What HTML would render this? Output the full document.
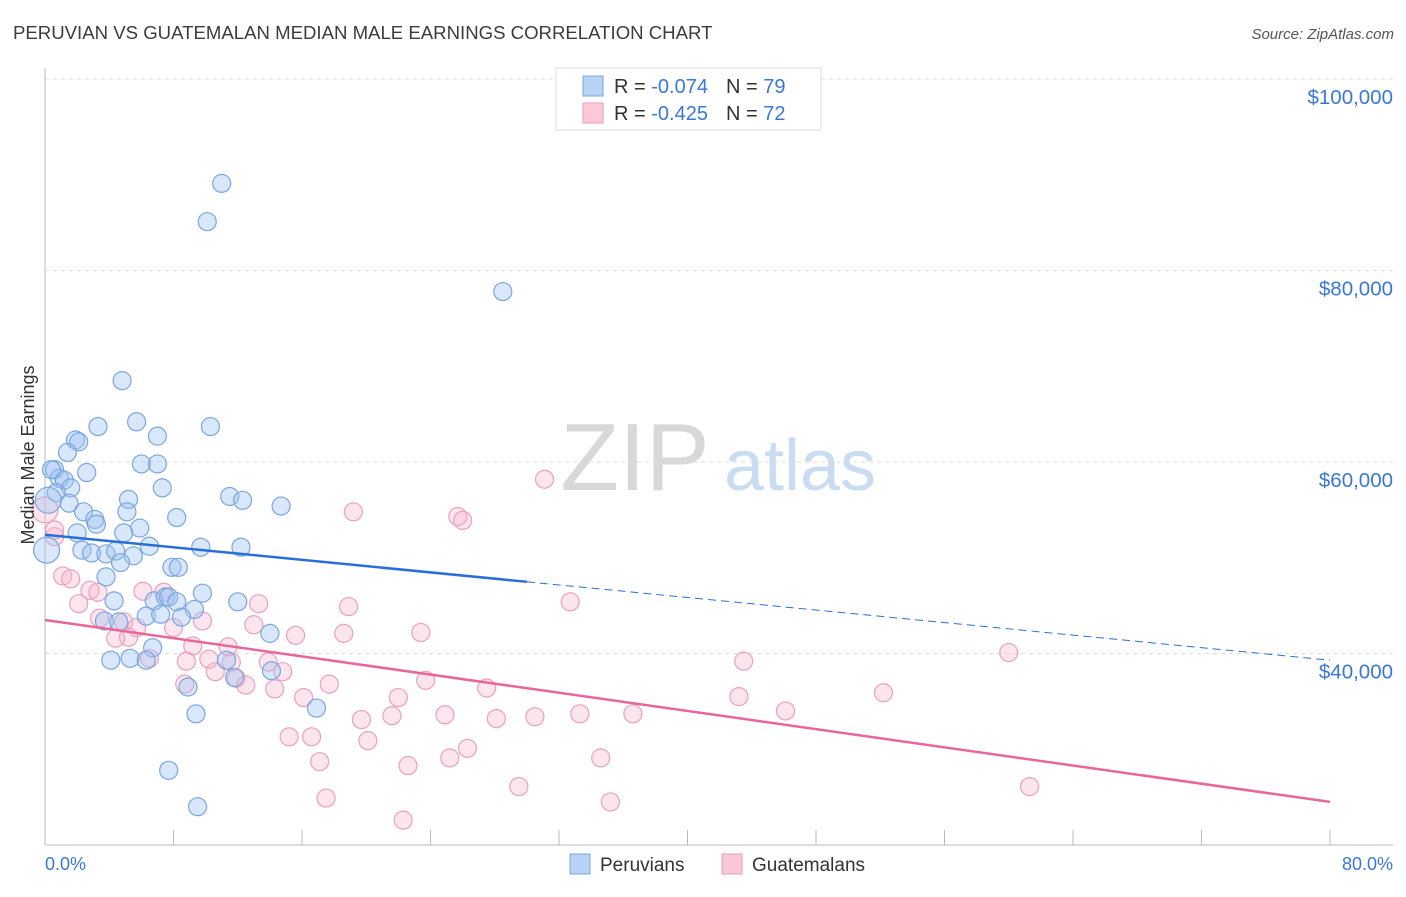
<!DOCTYPE html>
<html><head><meta charset="utf-8"><style>
body{margin:0;background:#fff;font-family:"Liberation Sans",sans-serif;}
svg text{font-family:"Liberation Sans",sans-serif;}
</style></head><body>
<svg id="chart" width="1406" height="892" xmlns="http://www.w3.org/2000/svg">
<text x="13" y="39" font-size="18.6" fill="#3c3c3c">PERUVIAN VS GUATEMALAN MEDIAN MALE EARNINGS CORRELATION CHART</text>
<text x="1394" y="39" font-size="15" fill="#555" font-style="italic" text-anchor="end">Source: ZipAtlas.com</text>
<g>
<text x="635" y="490" font-size="96" fill="#d8d8d8" font-family="Liberation Serif,serif" text-anchor="middle">ZIP</text>
<text x="800" y="490" font-size="72" fill="#c9dcf2" text-anchor="middle">atlas</text>
</g>
<g id="grid"></g>
<g id="axes"></g>
<g id="marks"></g>
<g>
<rect x="556" y="68" width="265" height="62" fill="#fff" stroke="#ddd"/>
<rect x="583" y="76" width="20" height="20" fill="#b8d2f5" stroke="#7aa6e3"/>
<rect x="583" y="103" width="20" height="20" fill="#fbc8d8" stroke="#ee9ab8"/>
<text x="614" y="93" font-size="20" fill="#333">R = <tspan fill="#3a78d8">-0.074</tspan><tspan dx="18">N = </tspan><tspan fill="#3a78d8">79</tspan></text>
<text x="614" y="120" font-size="20" fill="#333">R = <tspan fill="#3a78d8">-0.425</tspan><tspan dx="18">N = </tspan><tspan fill="#3a78d8">72</tspan></text>
</g>
<text transform="translate(34,455) rotate(-90)" font-size="18" fill="#333" text-anchor="middle">Median Male Earnings</text>
<text x="45" y="870" font-size="18" fill="#3a78d8">0.0%</text>
<text x="1393" y="870" font-size="18" fill="#3a78d8" text-anchor="end">80.0%</text>
<g>
<rect x="570" y="854" width="20" height="20" fill="#b8d2f5" stroke="#7aa6e3"/>
<text x="600" y="871" font-size="19" fill="#333">Peruvians</text>
<rect x="722" y="854" width="20" height="20" fill="#fbc8d8" stroke="#ee9ab8"/>
<text x="752" y="871" font-size="19" fill="#333">Guatemalans</text>
</g>
</svg>
<script>
const yTicks=[100000,80000,60000,40000];
const yTickLabels=["$100,000","$80,000","$60,000","$40,000"];
const xTicks=[0,8,16,24,32,40,48,56,64,72,80];
const peruX=[11.0,10.1,28.5,4.8,5.7,7.0,10.3,3.3,1.9,2.1,1.4,6.0,7.0,2.6,0.6,0.9,1.2,1.6,7.3,0.7,11.5,12.3,5.2,14.7,1.5,2.4,5.1,3.1,8.2,3.2,5.9,4.9,2.0,6.5,9.7,12.2,2.3,2.9,3.8,4.4,5.5,4.7,7.9,8.3,3.8,4.3,6.8,7.5,7.7,9.8,8.2,12.0,9.3,6.3,7.2,8.5,3.7,4.6,14.0,6.7,4.1,5.3,6.3,11.3,14.1,11.8,8.9,16.9,9.4,7.7,9.5,0.1,0.2,0.4];
const peruY=[89.1,85.1,77.8,68.5,64.2,62.7,63.7,63.7,62.3,62.1,61.0,59.8,59.8,58.9,59.2,58.3,58.1,57.3,57.3,56.8,56.4,56.0,56.1,55.4,55.7,54.8,54.8,54.0,54.2,53.5,53.1,52.6,52.6,51.2,51.1,51.1,50.8,50.5,50.4,50.7,50.2,49.5,49.0,49.0,48.0,45.5,45.5,45.9,45.9,46.3,45.4,45.4,44.6,43.9,44.1,43.8,43.4,43.3,42.1,40.6,39.3,39.5,39.3,39.3,38.2,37.5,36.5,34.3,33.7,27.8,24.0,50.8,56.0,59.2];
const guatX=[31.1,19.2,25.7,26.0,0.6,1.1,1.6,2.8,3.3,2.1,6.1,7.4,32.7,13.3,18.9,9.8,3.4,4.9,8.0,5.7,13.0,23.4,15.6,18.6,5.2,4.4,9.2,11.4,8.8,10.2,6.5,13.9,11.6,43.5,60.0,10.6,14.8,11.9,8.7,23.7,17.7,12.5,14.3,27.5,16.1,22.0,43.2,52.2,24.9,21.6,33.3,36.6,30.5,19.7,28.1,46.1,15.2,16.6,20.1,26.3,17.1,25.2,22.6,34.6,17.5,29.5,35.2,61.3,22.3,0,0.6];
const guatY=[58.2,54.8,54.3,53.9,52.2,48.1,47.8,46.6,46.4,45.2,46.5,46.4,45.4,45.2,44.9,43.4,43.7,43.3,42.7,42.7,43.0,42.2,41.9,42.1,41.7,41.6,40.8,40.7,39.2,39.4,39.5,39.1,39.1,39.2,40.1,38.1,38.1,37.4,36.8,37.2,36.8,36.7,36.3,36.4,35.4,35.4,35.5,35.9,33.6,33.5,33.7,33.7,33.4,33.1,33.2,34.0,31.3,31.3,30.9,30.1,28.7,29.1,28.3,29.1,24.9,26.1,24.5,26.1,22.6,55.0,52.9];
const peruTrend=[52.4,39.3];
const guatTrend=[43.5,24.5];
const peruSolidEnd=30;
const NS="http://www.w3.org/2000/svg";
function xs(v){return 45+v/80*1285;}
function ys(v){return 79+(100000-v)*191.5/20000;}
function yk(v){return ys(v*1000);}
function mk(tag,attrs,parent){const e=document.createElementNS(NS,tag);for(const k in attrs)e.setAttribute(k,attrs[k]);parent.appendChild(e);return e;}
const grid=document.getElementById('grid'),axes=document.getElementById('axes'),marks=document.getElementById('marks');
yTicks.forEach((t,i)=>{
 const l=mk('line',{x1:45,x2:1393,y1:ys(t),y2:ys(t),stroke:'#ddd','stroke-dasharray':'4,4'},grid);
 
 
 const tx=mk('text',{x:1393,y:ys(t)+25,'font-size':20.5,fill:'#3a78d8','text-anchor':'end'},axes);
 tx.textContent=yTickLabels[i];
 
 
});
const la=mk('line',{x1:45,x2:45,y1:68,y2:845,stroke:'#bbb'},axes);


const ba=mk('line',{x1:45,x2:1393,y1:845,y2:845,stroke:'#bbb'},axes);


xTicks.forEach(t=>{const l=mk('line',{x1:xs(t),x2:xs(t),y1:830,y2:845,stroke:'#bbb'},axes);
 
 });
function dots(X,Y,fill,stroke,name){X.forEach((x,i)=>{const big=x<0.3;const c=mk('circle',{cx:xs(x),cy:yk(Y[i]),r:big?13:9,fill:fill,stroke:stroke,'stroke-width':1.2},marks);
 
 });}
dots(guatX,guatY,'rgba(246,180,202,0.35)','#eba0bc','guatemalan-point');
dots(peruX,peruY,'rgba(160,196,242,0.4)','#79a6e2','peruvian-point');
function lin(tr,x){return tr[0]+(tr[1]-tr[0])*x/80;}
const p1=mk('line',{x1:xs(0),y1:yk(lin(peruTrend,0)),x2:xs(peruSolidEnd),y2:yk(lin(peruTrend,peruSolidEnd)),stroke:'#2a6fd8','stroke-width':2.5},marks);


const p2=mk('line',{x1:xs(peruSolidEnd),y1:yk(lin(peruTrend,peruSolidEnd)),x2:xs(80),y2:yk(lin(peruTrend,80)),stroke:'#2a6fd8','stroke-width':1,'stroke-dasharray':'8,5'},marks);


const g1=mk('line',{x1:xs(0),y1:yk(lin(guatTrend,0)),x2:xs(80),y2:yk(lin(guatTrend,80)),stroke:'#e8679a','stroke-width':2.5},marks);


</script>
</body></html>
